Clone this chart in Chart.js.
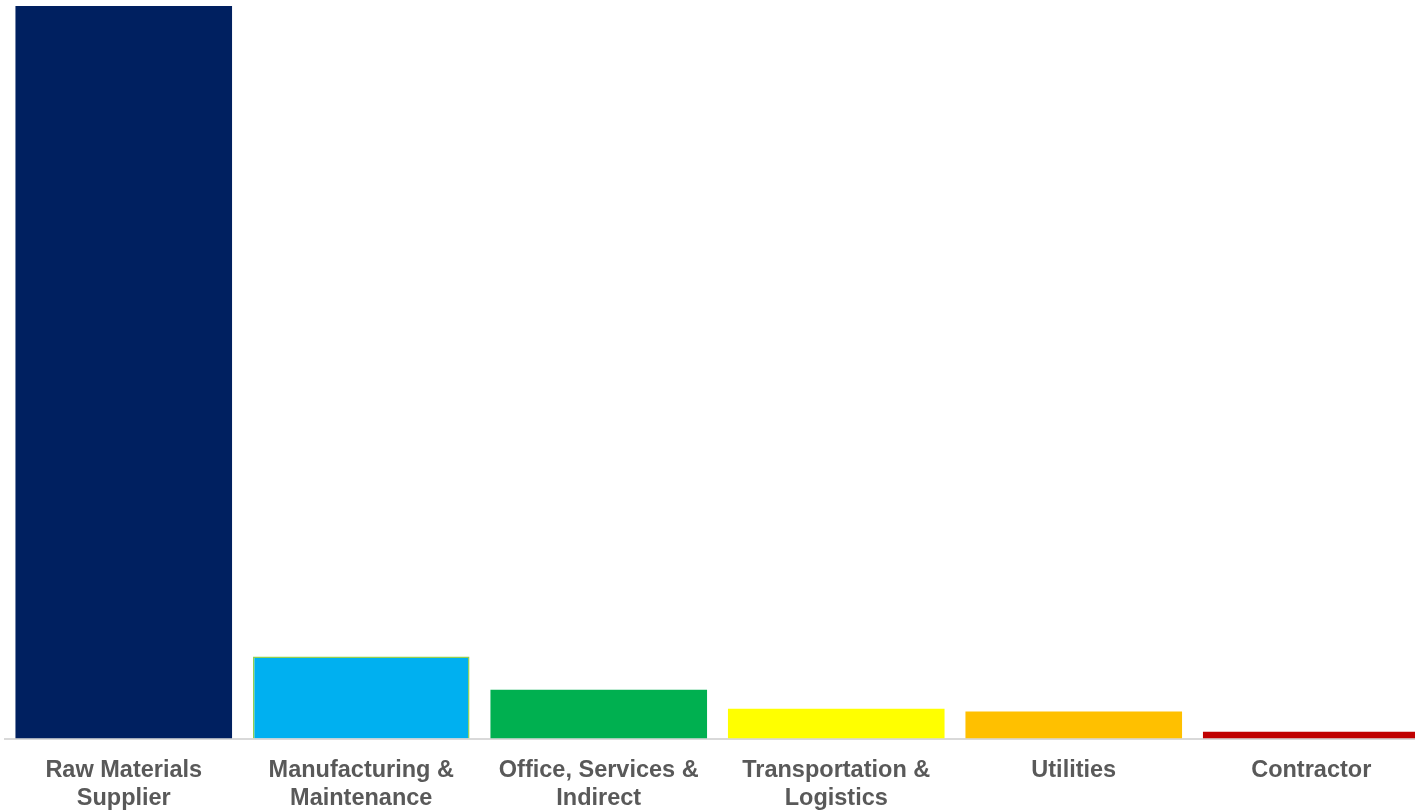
<!DOCTYPE html>
<html>
<head>
<meta charset="utf-8">
<script src="https://cdn.jsdelivr.net/npm/chart.js@4/dist/chart.umd.min.js"></script>
<style>
  html, body { margin: 0; padding: 0; overflow: hidden; background: #fff; }
  #wrap { width: 1436px; height: 831px; position: relative; }
</style>
</head>
<body>
<div id="wrap"><canvas id="chart"></canvas></div>
<script>
const CATEGORIES = [
  ['Raw Materials', 'Supplier'],
  ['Manufacturing &', 'Maintenance'],
  ['Office, Services &', 'Indirect'],
  ['Transportation &', 'Logistics'],
  ['Utilities'],
  ['Contractor'],
];

// share of spend (%)
const VALUES = [79.0, 8.84, 5.28, 3.23, 2.91, 0.75];

const COLORS = ['#002060', '#00B0F0', '#00B050', '#FFFF00', '#FFC000', '#C00000'];
const BORDERS = ['#002060', '#92D050', '#00B050', '#FFFF00', '#FFC000', '#C00000'];

new Chart(document.getElementById('chart').getContext('2d'), {
  type: 'bar',
  data: {
    labels: CATEGORIES,
    datasets: [{
      data: VALUES,
      backgroundColor: COLORS,
      borderColor: BORDERS,
      borderWidth: [0, 1.5, 0, 0, 0, 0],
      borderSkipped: 'bottom',
      categoryPercentage: 1,
      barPercentage: 0.912,
    }],
  },
  options: {
    responsive: true,
    maintainAspectRatio: false,
    animation: false,
    layout: { padding: { top: 6, left: 5, right: 6, bottom: 0 } },
    plugins: { legend: { display: false }, tooltip: { enabled: false } },
    scales: {
      x: {
        grid: { display: false, drawTicks: false },
        border: { display: true, color: '#d9d9d9', width: 2 },
        ticks: {
          color: '#595959',
          padding: 18,
          maxRotation: 0,
          autoSkip: false,
          font: { family: 'Liberation Sans, Arial, sans-serif', size: 23.5, weight: 'bold', lineHeight: 1.2 },
        },
      },
      y: {
        display: false,
        min: 0,
        max: 79.0,
      },
    },
  },
});
</script>
</body>
</html>
